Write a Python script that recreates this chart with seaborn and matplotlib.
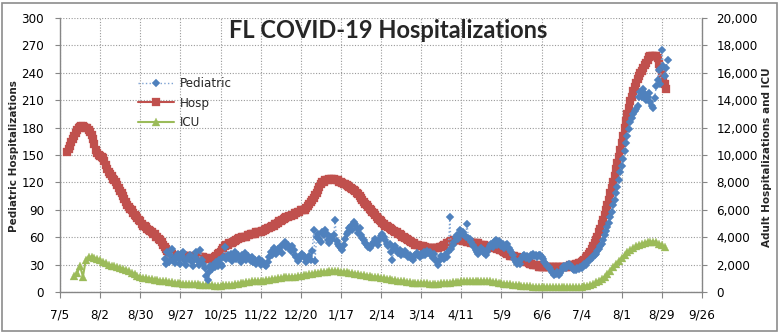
import numpy as np
import pandas as pd
import matplotlib
matplotlib.use("Agg")
import matplotlib.pyplot as plt
from matplotlib.patches import Rectangle
import seaborn as sns

# ---------------- data ----------------
# Adult hospitalizations, daily from 2020-07-10
hosp = [
    10200, 10450, 10650, 10950, 11200, 11400, 11600, 11800, 11950, 12050, 12150, 12150, 12050, 12000,
    11950, 11800, 11650, 11450, 11200, 10800, 10350, 10150, 10000, 9950, 9850, 9750, 9550, 9300,
    9000, 8750, 8600, 8450, 8250, 8150, 8000, 7800, 7600, 7400, 7200, 7000, 6800, 6600,
    6350, 6200, 6050, 5950, 5800, 5650, 5550, 5400, 5250, 5150, 5000, 4850, 4800, 4750,
    4600, 4550, 4450, 4350, 4250, 4200, 4050, 4000, 3850, 3800, 3650, 3450, 3250, 3150,
    3000, 2850, 2800, 2750, 2650, 2650, 2650, 2650, 2650, 2650, 2650, 2600, 2600, 2600,
    2600, 2600, 2550, 2550, 2550, 2550, 2550, 2550, 2550, 2550, 2550, 2550, 2450, 2450,
    2400, 2400, 2400, 2400, 2450, 2550, 2650, 2750, 2850, 2950, 3050, 3200, 3350, 3450,
    3450, 3550, 3550, 3600, 3650, 3750, 3800, 3850, 3950, 3950, 4000, 4000, 4050, 4050,
    4150, 4150, 4200, 4200, 4250, 4250, 4350, 4350, 4400, 4400, 4450, 4450, 4550, 4600,
    4650, 4650, 4750, 4800, 4850, 4950, 5000, 5050, 5150, 5200, 5250, 5350, 5400, 5450,
    5450, 5550, 5550, 5600, 5650, 5750, 5800, 5850, 5850, 5950, 5950, 6000, 6000, 6150,
    6250, 6400, 6550, 6750, 6850, 7050, 7250, 7450, 7650, 7850, 8000, 8050, 8150, 8200,
    8200, 8250, 8250, 8250, 8250, 8200, 8200, 8150, 8050, 8000, 7950, 7850, 7850, 7800,
    7750, 7650, 7600, 7550, 7450, 7350, 7250, 7150, 7000, 6850, 6750, 6600, 6450, 6350,
    6200, 6050, 5950, 5850, 5750, 5600, 5450, 5350, 5250, 5150, 5050, 4950, 4850, 4800,
    4750, 4650, 4600, 4550, 4450, 4400, 4350, 4250, 4200, 4150, 4050, 4000, 3950, 3850,
    3800, 3750, 3650, 3600, 3550, 3450, 3400, 3400, 3350, 3350, 3350, 3250, 3250, 3200,
    3200, 3200, 3200, 3200, 3200, 3200, 3200, 3200, 3250, 3250, 3350, 3400, 3450, 3550,
    3600, 3650, 3750, 3750, 3800, 3800, 3800, 3800, 3800, 3800, 3750, 3750, 3750, 3650,
    3650, 3650, 3600, 3600, 3600, 3550, 3550, 3550, 3450, 3450, 3400, 3400, 3350, 3350,
    3300, 3300, 3250, 3250, 3200, 3200, 3150, 3150, 3100, 3050, 3000, 2950, 2850, 2800,
    2750, 2650, 2650, 2600, 2600, 2550, 2550, 2450, 2400, 2400, 2350, 2250, 2200, 2200,
    2150, 2050, 2050, 2000, 2000, 1950, 1950, 1850, 1850, 1850, 1850, 1800, 1800, 1800,
    1800, 1800, 1800, 1800, 1800, 1800, 1800, 1800, 1800, 1800, 1800, 1800, 1800, 1850,
    1850, 1950, 1950, 2000, 2000, 2050, 2050, 2150, 2150, 2200, 2250, 2350, 2450, 2600,
    2800, 2950, 3150, 3350, 3550, 3800, 4050, 4350, 4600, 4950, 5250, 5600, 5950, 6350,
    6750, 7200, 7600, 8000, 8450, 8950, 9400, 9850, 10350, 10850, 11400, 11950, 12450, 13000,
    13450, 13950, 14250, 14650, 15000, 15250, 15550, 15750, 15950, 16150, 16350, 16550, 16750, 16950,
    17150, 17200, 17200, 17200, 17200, 17200, 17050, 16650, 16350, 16000, 15650, 15200, 14800,
]

# Adult ICU, every second day from 2020-07-15
icu = [
    1200, 1400, 1870, 1130, 2330, 2570, 2530, 2470, 2400, 2300, 2200, 2100, 2000, 1930,
    1870, 1800, 1730, 1670, 1600, 1500, 1400, 1300, 1200, 1100, 1030, 1000, 970, 930,
    900, 870, 830, 800, 770, 730, 700, 670, 650, 630, 610, 600, 590, 570,
    560, 550, 530, 520, 510, 490, 480, 470, 470, 470, 480, 500, 520, 530,
    570, 600, 630, 670, 700, 730, 770, 800, 800, 810, 830, 870, 900, 930,
    970, 1000, 1030, 1070, 1070, 1100, 1130, 1130, 1170, 1200, 1230, 1270, 1300, 1330,
    1370, 1400, 1430, 1470, 1470, 1500, 1500, 1500, 1500, 1470, 1470, 1430, 1400, 1370,
    1330, 1300, 1270, 1230, 1200, 1170, 1130, 1100, 1070, 1030, 1000, 970, 930, 900,
    870, 830, 800, 770, 730, 700, 680, 670, 650, 640, 630, 630, 620, 610,
    610, 620, 630, 650, 670, 690, 710, 730, 750, 770, 790, 800, 810, 820,
    830, 830, 820, 810, 800, 770, 750, 720, 690, 650, 620, 590, 560, 530,
    510, 480, 460, 440, 420, 410, 390, 380, 370, 370, 360, 350, 350, 340,
    330, 330, 330, 330, 330, 330, 330, 350, 360, 380, 410, 470, 530, 610,
    710, 820, 970, 1130, 1330, 1530, 1800, 2030, 2270, 2500, 2700, 2900, 3070, 3200,
    3330, 3430, 3530, 3600, 3650, 3670, 3670, 3630, 3530, 3400, 3270,
]

# Pediatric hospitalizations, daily from 2020-09-16
ped = [
    36, 31, 44,
    33, 40, 47, 35, 32, 38, 42, 36, 31, 39, 44, 34, 30, 37,
    36, 41, 33, 29, 38, 44, 34, 30, 46, 35, 31, 26, 18, 13,
    22, 28, 25, 30, 27, 33, 29, 35, 31, 28, 38, 49, 36, 40,
    37, 42, 34, 39, 44, 36, 41, 38, 33, 40, 37, 43, 35, 39,
    37, 34, 38, 33, 35, 31, 33, 36, 30, 34, 32, 30, 29, 33,
    38, 44, 40, 48, 45, 42, 47, 46, 50, 43, 53, 55, 49, 52,
    48, 45, 50, 46, 41, 38, 34, 36, 40, 42, 39, 37, 33, 36,
    39, 35, 45, 68, 34, 60, 63, 58, 55, 66, 62, 68, 64, 57,
    54, 60, 58, 62, 79, 56, 53, 50, 48, 46, 52, 58, 63, 66,
    70, 72, 68, 77, 74, 70, 65, 70, 62, 59, 57, 54, 52, 49,
    48, 50, 53, 55, 58, 55, 52, 58, 61, 64, 60, 57, 53, 50,
    53, 44, 35, 48, 50, 46, 43, 46, 40, 44, 42, 45, 42, 38,
    40, 37, 35, 38, 41, 43, 40, 38, 42, 40, 44, 41, 45, 43,
    44, 40, 37, 42, 36, 33, 30, 35, 39, 38, 36, 41, 38, 44,
    82, 47, 52, 55, 60, 62, 58, 68, 64, 66, 62, 60, 75, 59,
    58, 55, 52, 49, 46, 44, 42, 45, 48, 46, 43, 40, 44, 47,
    50, 53, 49, 55, 57, 52, 56, 54, 50, 53, 48, 51, 53, 48,
    46, 44, 40, 36, 33, 31, 34, 31, 36, 39, 41, 37, 39, 36,
    38, 40, 42, 39, 41, 38, 40, 41, 38, 36, 33, 31, 29, 27,
    25, 22, 21, 19, 20, 22, 19, 21, 24, 27, 28, 26, 30, 31,
    29, 27, 25, 24, 24, 26, 25, 27, 26, 28, 31, 30, 33, 35,
    35, 37, 39, 41, 42, 45, 47, 50, 53, 57, 62, 67, 71, 76,
    82, 88, 95, 101, 108, 115, 123, 131, 138, 146, 154, 163, 171, 179,
    186, 191, 195, 198, 200, 204, 213, 219, 214, 222, 217, 210, 213, 218,
    208, 204, 201, 212, 225, 232, 243, 228, 265, 247, 236, 245, 254,
]

x_tick_labels = ["7/5", "8/2", "8/30", "9/27", "10/25", "11/22", "12/20", "1/17",
                 "2/14", "3/14", "4/11", "5/9", "6/6", "7/4", "8/1", "8/29", "9/26"]
left_ticks = [0, 30, 60, 90, 120, 150, 180, 210, 240, 270, 300]
right_ticks = [0, 2000, 4000, 6000, 8000, 10000, 12000, 14000, 16000, 18000, 20000]

hosp_dates = pd.date_range("2020-07-10", periods=len(hosp), freq="D")
icu_dates = pd.date_range("2020-07-15", periods=len(icu), freq="2D")
ped_dates = pd.date_range("2020-09-16", periods=len(ped), freq="D")
tick_dates = pd.date_range("2020-07-05", periods=len(x_tick_labels), freq="28D")

df_hosp = pd.DataFrame({"date": hosp_dates, "value": hosp})
df_icu = pd.DataFrame({"date": icu_dates, "value": icu})
df_ped = pd.DataFrame({"date": ped_dates, "value": ped})

# ---------------- style ----------------
sns.set_style("white")
plt.rcParams["font.family"] = ["DejaVu Sans"]

C_PED = "#4F81BD"
C_PED_LINE = "#7FA3D3"
C_HOSP = "#C0504D"
C_ICU = "#9BBB59"
AXC = "#868686"

W, H = 780, 333
fig = plt.figure(figsize=(W / 100, H / 100), dpi=100)
ax = fig.add_axes([60 / W, 1 - 292 / H, 642 / W, 274 / H])
ax2 = ax.twinx()
ax.set_zorder(ax2.get_zorder() + 1)
ax.patch.set_visible(False)
ax2.patch.set_visible(True)
ax2.patch.set_facecolor("white")

# secondary axis series
sns.lineplot(data=df_hosp, x="date", y="value", ax=ax2, color=C_HOSP, lw=1.5,
             marker="s", markersize=5.4, markerfacecolor=C_HOSP,
             markeredgecolor=C_HOSP, markeredgewidth=0.2, label="Hosp", legend=False)
sns.lineplot(data=df_icu, x="date", y="value", ax=ax2, color=C_ICU, lw=1.5,
             marker="^", markersize=5.2, markerfacecolor=C_ICU,
             markeredgecolor=C_ICU, markeredgewidth=0.2, label="ICU", legend=False)
# primary axis series
sns.lineplot(data=df_ped, x="date", y="value", ax=ax, color=C_PED_LINE, lw=1.0,
             linestyle=":", marker="D", markersize=4.0, markerfacecolor=C_PED,
             markeredgecolor=C_PED, markeredgewidth=0.2, label="Pediatric", legend=False)

# axes limits / ticks
x0, x1 = pd.Timestamp("2020-07-05"), pd.Timestamp("2021-09-26")
ax.set_xlim(x0, x1)
ax.set_xticks(tick_dates)
ax.set_xticklabels(x_tick_labels)
ax.set_ylim(0, 300)
ax.set_yticks(left_ticks)
ax.set_yticklabels([str(v) for v in left_ticks])
ax2.set_ylim(0, 20000)
ax2.set_yticks(right_ticks)
ax2.set_yticklabels([f"{v:,}" for v in right_ticks])
ax.set_xlabel("")
ax.set_ylabel("")
ax2.set_xlabel("")
ax2.set_ylabel("")

# grid on the lower axes so it stays behind all data
ax.grid(False)
ax2.xaxis.set_visible(True)
ax2.grid(True, which="major", axis="both", color="#9a9a9a", lw=0.8, linestyle=(0, (1, 1.5)))
ax2.tick_params(axis="x", bottom=False, top=False, labelbottom=False, labeltop=False)

ax.tick_params(axis="x", bottom=True, direction="out", length=4, width=0.8, color=AXC,
               pad=8, labelsize=8.6, labelcolor="black")
ax.tick_params(axis="y", left=True, right=False, direction="out", length=3.5, width=0.8,
               color=AXC, pad=8, labelsize=8.6, labelcolor="black")
ax2.tick_params(axis="y", right=True, left=False, direction="out", length=3.5, width=0.8,
                color=AXC, pad=7, labelsize=8.6, labelcolor="black")

for s in ["top", "right"]:
    ax.spines[s].set_visible(False)
for s in ["left", "bottom"]:
    ax.spines[s].set_color(AXC)
    ax.spines[s].set_linewidth(1.0)
for s in ["top", "left", "bottom"]:
    ax2.spines[s].set_visible(False)
ax2.spines["right"].set_color(AXC)
ax2.spines["right"].set_linewidth(1.0)

# texts
fig.text(388 / W, 1 - 31 / H, "FL COVID-19 Hospitalizations", ha="center", va="center",
         fontsize=17, fontweight="bold", family=["Lato", "DejaVu Sans"])
fig.text(14 / W, 1 - 156 / H, "Pediatric Hospitalizations", rotation=90, ha="center",
         va="center", fontsize=7.5, fontweight="bold")
fig.text(767 / W, 1 - 157 / H, "Adult Hospitalizations and ICU", rotation=90, ha="center",
         va="center", fontsize=7.5, fontweight="bold")

# legend
h1, l1 = ax.get_legend_handles_labels()
h2, l2 = ax2.get_legend_handles_labels()
fig.legend(h1 + h2, l1 + l2, loc="upper left", bbox_to_anchor=(138 / W, 1 - 77 / H),
           frameon=False, fontsize=8.6, handlelength=3.0, handletextpad=0.5,
           labelspacing=0.55, borderaxespad=0, borderpad=0)

# chart border
fig.patches.append(Rectangle((2 / W, 2 / H), 775 / W, 328 / H, transform=fig.transFigure,
                             fill=False, ec="#8c8c8c", lw=1.2))

fig.savefig("out.png", dpi=100)
